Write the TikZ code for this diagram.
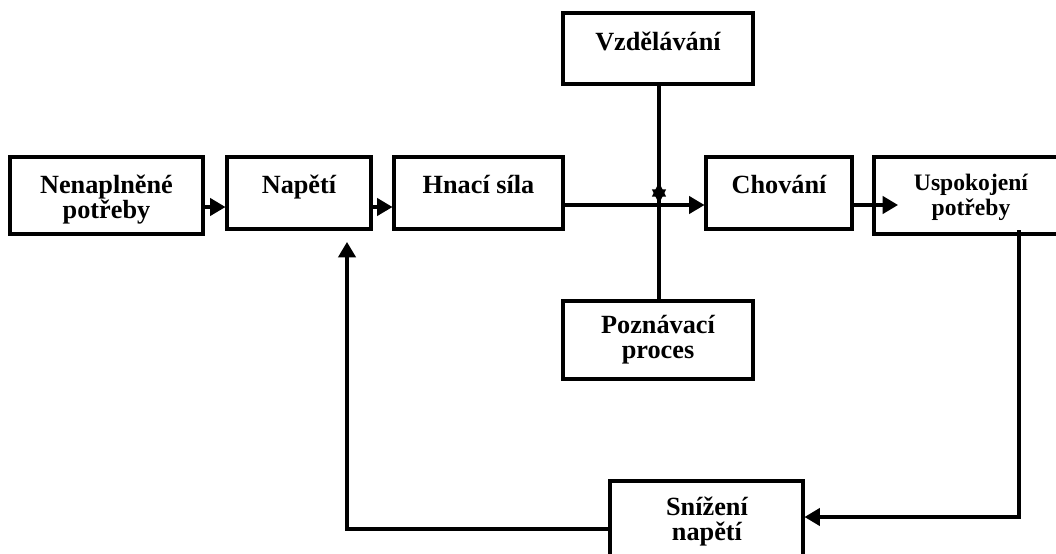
\documentclass[tikz,border=0pt]{standalone}
\usepackage{fontspec}
\setmainfont{Liberation Serif}
\usetikzlibrary{arrows.meta,fit}
\begin{document}
\begin{tikzpicture}[x=0.75pt,y=-0.75pt,
  box/.style={draw,line width=2.3pt,inner sep=0pt,rectangle},
  lbl/.style={inner sep=0pt,align=center,font=\bfseries\fontsize{19.7}{18.75}\selectfont},
  lblsmall/.style={inner sep=0pt,align=center,font=\bfseries\fontsize{17.7}{18.75}\selectfont},
  conn/.style={line width=2.3pt},
  arr/.style={conn,-{Triangle[length=11.5pt,width=13pt]}},
  arrsmall/.style={conn,-{Triangle[length=11pt,width=10pt]}}]
\path[use as bounding box,clip] (0,0) rectangle (1056,553);

% boxes
\node[box,fit={(10,157) (203,234)}] (nen) {};
\node[box,fit={(227,157) (371,229)}] (nap) {};
\node[box,fit={(394,157) (563,229)}] (hna) {};
\node[box,fit={(706,157) (852,229)}] (cho) {};
\node[box,fit={(874,157) (1075,234)}] (usp) {};
\node[box,fit={(563,13) (753,84)}] (vzd) {};
\node[box,fit={(563,301) (753,379)}] (poz) {};
\node[box,fit={(610,481) (803,575)}] (sni) {};

% labels (base anchor sits on the last line)
\node[lbl,anchor=base] (nenT) at (106.5,218) {Nenaplněné\\potřeby};
\node[lbl,anchor=base] (napT) at (299,193) {Napětí};
\node[lbl,anchor=base] (hnaT) at (478.5,193) {Hnací síla};
\node[lbl,anchor=base] (choT) at (779,193) {Chování};
\node[lblsmall,anchor=base] (uspT) at (971,215) {Uspokojení\\potřeby};
\node[lbl,anchor=base] (vzdT) at (658,50) {Vzdělávání};
\node[lbl,anchor=base] (pozT) at (658,358) {Poznávací\\proces};
\node[lbl,anchor=base] (sniT) at (707,540) {Snížení\\napětí};

% helper coordinates
\coordinate (rowA) at (0,207);
\coordinate (rowB) at (0,205);
\coordinate (uspTip) at (898,205);
\coordinate (starDown) at (659,204);
\coordinate (starUp) at (659,182);
\coordinate (fbStart) at (1019,230);
\coordinate (fbIn) at (0,517);
\coordinate (fbOut) at (0,529);
\coordinate (napTip) at (347,242);

% connectors
\draw[arr] (nen.east |- rowA) -- (nap.west |- rowA);
\draw[arr] (nap.east |- rowA) -- (hna.west |- rowA);
\draw[arr] (hna.east |- rowB) -- (cho.west |- rowB);
\draw[arr] (cho.east |- rowB) -- (uspTip);
\draw[arrsmall] (vzd.south -| starDown) -- (starDown);
\draw[arrsmall] (poz.north -| starUp) -- (starUp);
\draw[arr] (fbStart) |- (sni.east |- fbIn);
\draw[arr] (sni.west |- fbOut) -| (napTip);
\end{tikzpicture}
\end{document}
